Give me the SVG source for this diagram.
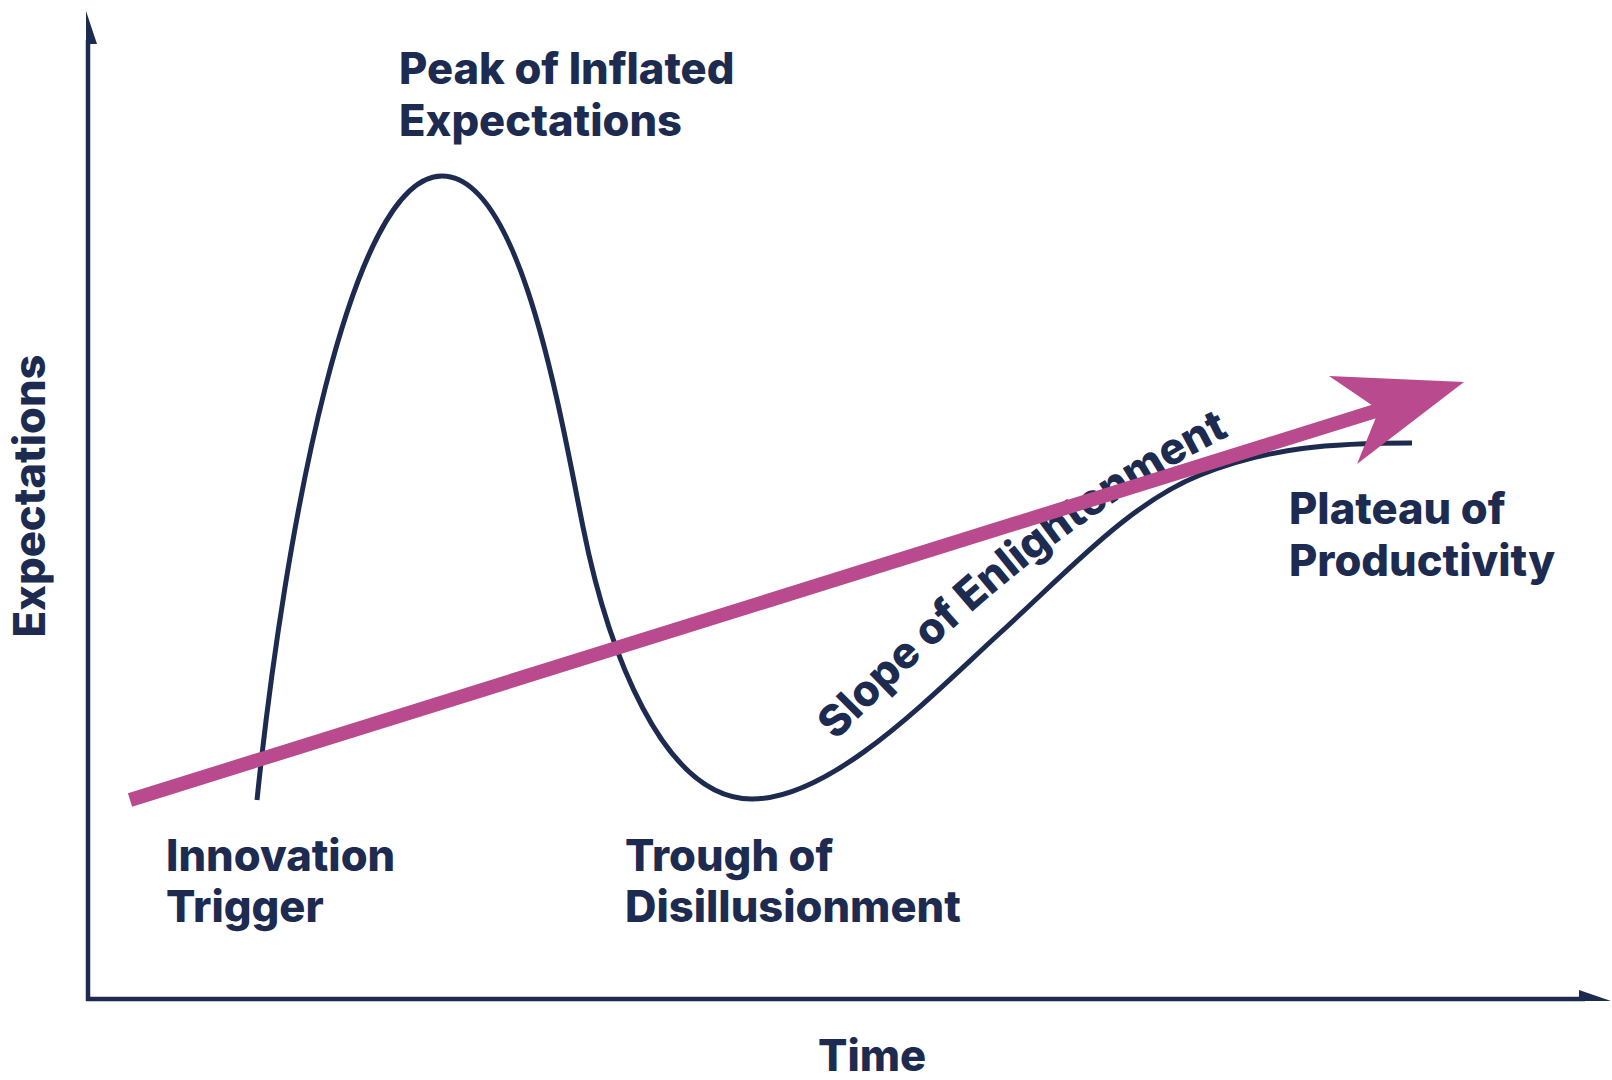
<svg xmlns="http://www.w3.org/2000/svg" width="1612" height="1080" viewBox="0 0 1612 1080">
<style>
.lbl{font-family:Inter,"Liberation Sans",sans-serif;font-weight:800;font-size:43.5px;fill:#1c2b4f}
.navy{stroke:#1c2b4f;fill:none}
</style>
<defs>
<path id="slopePath" d="M836,741 C960,615 1090,500 1248,427"/>
</defs>
<rect width="1612" height="1080" fill="#ffffff"/>
<g id="axes">
<line class="navy" x1="88" y1="40" x2="88" y2="1001" stroke-width="4.5"/>
<polygon points="86,11 97,44 86,44" fill="#1c2b4f"/>
<line class="navy" x1="86" y1="999" x2="1585" y2="999" stroke-width="4.5"/>
<polygon points="1579,990 1611,1001 1579,1001" fill="#1c2b4f"/>
</g>
<g id="hype-curve">
<path class="navy" stroke-width="5" stroke-linecap="butt" d="M257,800 C285,530 350,176 442,176 C520,176 559,407 583,527 C607,647 662,799 752,799 C832,799 930,697 1000,633 C1070,569 1130,503 1200,475 C1270,447 1332,443 1412,443"/>
</g>
<g id="label-peak"><text class="lbl" x="399" y="84">Peak of Inflated</text><text class="lbl" x="399" y="136">Expectations</text></g>
<g id="label-innovation"><text class="lbl" x="166" y="871">Innovation</text><text class="lbl" x="166" y="922">Trigger</text></g>
<g id="label-trough"><text class="lbl" x="625" y="871">Trough of</text><text class="lbl" x="625" y="922">Disillusionment</text></g>
<g id="label-plateau"><text class="lbl" x="1289" y="524">Plateau of</text><text class="lbl" x="1289" y="576">Productivity</text></g>
<g id="label-slope"><text class="lbl" font-size="41.5"><textPath href="#slopePath">Slope of Enlightenment</textPath></text></g>
<g id="axis-labels">
<text class="lbl" x="818" y="1071">Time</text>
<text class="lbl" text-anchor="middle" transform="translate(45,496) rotate(-90)">Expectations</text>
</g>
<g id="connectors">
<line x1="130" y1="800" x2="1382" y2="409" stroke="#b94a8e" stroke-width="14" stroke-linecap="butt"/>
<polygon points="1464,382 1329,376 1379,410 1357,464" fill="#b94a8e"/>
</g>
</svg>
